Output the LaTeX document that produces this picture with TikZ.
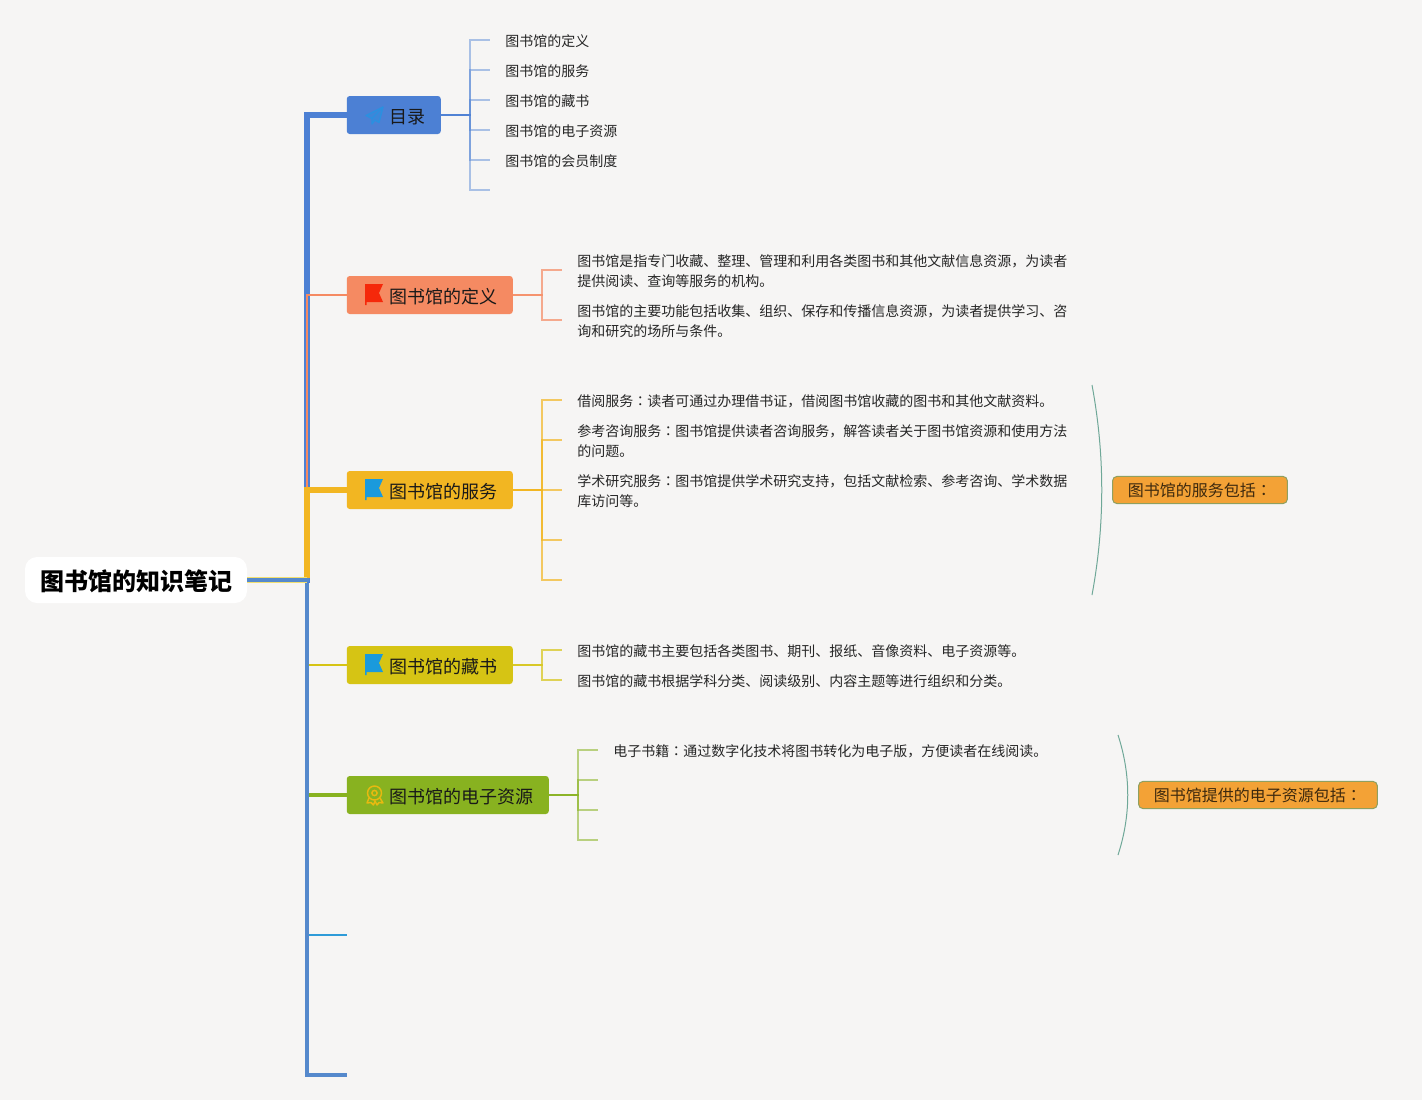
\documentclass[tikz,border=0pt]{standalone}
\usepackage{fontspec}
\setmainfont{Noto Sans CJK SC}
\newfontfamily\tcfont{Noto Sans CJK TC}
\newcommand{\cn}{{\tcfont ：}}
\newcommand{\lowtxt}[1]{\raisebox{-0.45em}[0pt][0pt]{#1}}
\definecolor{bgc}{HTML}{F6F5F4}
\definecolor{cblue}{HTML}{4C80D4}
\definecolor{ctrunk}{HTML}{5589CC}
\definecolor{csalmon}{HTML}{F58A62}
\definecolor{corange}{HTML}{F2B622}
\definecolor{cyellow}{HTML}{D6C414}
\definecolor{cpale}{HTML}{F2DF70}
\definecolor{cgreen}{HTML}{88B220}
\definecolor{ccyan}{HTML}{2E9BD8}
\definecolor{ccall}{HTML}{F3A236}
\definecolor{ccallb}{HTML}{8FA060}
\definecolor{cbrace}{HTML}{6FA898}
\definecolor{cred}{HTML}{F5280A}
\definecolor{cflag}{HTML}{1A9ADC}
\definecolor{cplane}{HTML}{2A90E0}
\definecolor{cmedal}{HTML}{E8B910}
\tikzset{
  rootbox/.style={fill=white,rounded corners=9pt,anchor=center,minimum width=166.5pt,minimum height=34.5pt,inner sep=0pt,font=\fontsize{18}{22}\selectfont\bfseries},
  topicbox/.style={anchor=west,rounded corners=2.2pt,minimum height=28.5pt,inner xsep=12pt,inner ysep=0pt,text=black!90,font=\fontsize{13.5}{16}\selectfont},
  leaftext/.style={anchor=west,inner xsep=11.25pt,inner ysep=0pt,align=left,text=black!85,font=\fontsize{10.5}{15}\selectfont},
  callbox/.style={anchor=west,fill=ccall,draw=ccallb,line width=0.75pt,rounded corners=3.5pt,inner xsep=11.6pt,inner ysep=0pt,minimum height=20.5pt,text=black!75!ccall,font=\fontsize{12}{15}\selectfont},
  sublink/.style={line width=1.1pt,opacity=0.45},
  bracecurve/.style={draw=cbrace,line width=0.75pt},
}
\newcommand{\flagicon}[3]{%
  \fill[#3] (#1,#2) -- (#1+18,#2) -- (#1+14,#2+9) -- (#1+18,#2+18) -- (#1+1.5,#2+18) -- (#1+1.5,#2+21) -- (#1,#2+21) -- cycle;}
\newcommand{\topictxt}[1]{\hspace*{20.25pt}\lowtxt{#1}\hspace*{-0.75pt}}
\begin{document}
\begin{tikzpicture}[x=0.75pt,y=-0.75pt]
\useasboundingbox (0,0) rectangle (1422,1100);
\fill[bgc] (0,0) rectangle (1422,1100);

% nodes
\node[rootbox] (root) at (136,580) {\hspace*{0.75pt}\lowtxt{图书馆的知识笔记}};
\node[topicbox,fill=cblue] (t1) at (346.5,115) {\topictxt{目录}};
\node[topicbox,fill=csalmon] (t2) at (346.5,295) {\topictxt{图书馆的定义}};
\node[topicbox,fill=corange] (t3) at (346.5,490) {\topictxt{图书馆的服务}};
\node[topicbox,fill=cyellow] (t4) at (346.5,665) {\topictxt{图书馆的藏书}};
\node[topicbox,fill=cgreen] (t5) at (346.5,795) {\topictxt{图书馆的电子资源}};
\coordinate (t6) at (347,935);
\coordinate (t7) at (347,1075);

% main branches
\draw[ccyan,line width=1.5pt] (root.east) -- ++(60,0) |- (t6);
\draw[cyellow,line width=1.5pt] (root.east) -- ++(60,0) |- (t4.west);
\draw[cgreen,line width=3pt] (root.east) -- ++(60,0) |- (t5.west);
\draw[ctrunk,line width=3pt] (root.east) -- ++(60,0) |- (t7);
\draw[cblue,line width=4.5pt] (root.east) -- ++(60,0) |- (t1.west);
\draw[csalmon,line width=1.5pt] (root.east) -- ++(60,0) |- (t2.west);
\draw[corange,line width=4.5pt] ([yshift=1.5pt]root.east) ++(60,0) |- (t3.west);
\draw[cpale,line width=4pt] (root.east) -- ++(60,0);
\draw[ctrunk,line width=2.6pt] (root.east) -- ++(62,0);

% 目录
\node[leaftext] (a1) at (490,41.5) {图书馆的定义};
\node[leaftext] (a2) at (490,71.5) {图书馆的服务};
\node[leaftext] (a3) at (490,101.5) {图书馆的藏书};
\node[leaftext] (a4) at (490,131.5) {图书馆的电子资源};
\node[leaftext] (a5) at (490,161.5) {图书馆的会员制度};
\coordinate (a6) at (490,191.5);
\foreach \n in {a1,a2,a3,a4,a5,a6}
  \draw[sublink,cblue] (t1.east) -- ++(29,0) |- ([yshift=1.125pt]\n.west);

% 定义
\node[leaftext] (b1) at (562,271.5) {图书馆是指专门收藏、整理、管理和利用各类图书和其他文献信息资源，为读者\\提供阅读、查询等服务的机构。};
\node[leaftext] (b2) at (562,321.5) {图书馆的主要功能包括收集、组织、保存和传播信息资源，为读者提供学习、咨\\询和研究的场所与条件。};
\foreach \n in {b1,b2}
  \draw[sublink,csalmon,opacity=0.7] (t2.east) -- ++(29,0) |- ([yshift=1.125pt]\n.west);

% 服务
\node[leaftext] (c1) at (562,401.5) {借阅服务\cn 读者可通过办理借书证，借阅图书馆收藏的图书和其他文献资料。};
\node[leaftext] (c2) at (562,441.5) {参考咨询服务\cn 图书馆提供读者咨询服务，解答读者关于图书馆资源和使用方法\\的问题。};
\node[leaftext] (c3) at (562,491.5) {学术研究服务\cn 图书馆提供学术研究支持，包括文献检索、参考咨询、学术数据\\库访问等。};
\coordinate (c4) at (562,541.5);
\coordinate (c5) at (562,581.5);
\foreach \n in {c1,c2,c3,c4,c5}
  \draw[sublink,corange,opacity=0.7] (t3.east) -- ++(29,0) |- ([yshift=1.125pt]\n.west);

% 藏书
\node[leaftext] (d1) at (562,651.5) {图书馆的藏书主要包括各类图书、期刊、报纸、音像资料、电子资源等。};
\node[leaftext] (d2) at (562,681.5) {图书馆的藏书根据学科分类、阅读级别、内容主题等进行组织和分类。};
\foreach \n in {d1,d2}
  \draw[sublink,cyellow,opacity=0.7] (t4.east) -- ++(29,0) |- ([yshift=1.125pt]\n.west);

% 电子资源
\node[leaftext] (e1) at (598,751.5) {电子书籍\cn 通过数字化技术将图书转化为电子版，方便读者在线阅读。};
\coordinate (e2) at (598,781.5);
\coordinate (e3) at (598,811.5);
\coordinate (e4) at (598,841.5);
\foreach \n in {e1,e2,e3,e4}
  \draw[sublink,cgreen,opacity=0.55] (t5.east) -- ++(29,0) |- ([yshift=1.125pt]\n.west);

% callouts
\node[callbox] (k1) at (1112,490) {图书馆的服务包括\cn};
\node[callbox] (k2) at (1138,795) {图书馆提供的电子资源包括\cn};
\coordinate (p1) at (1092,385);
\coordinate (p2) at (1092,595);
\coordinate (q1) at (1118,735);
\coordinate (q2) at (1118,855);
\draw[bracecurve] (p1) .. controls (1105,455) and (1105,525) .. (p2);
\draw[bracecurve] (q1) .. controls (1131,775) and (1131,815) .. (q2);

% icons
\filldraw[draw=cplane,fill=cplane,fill opacity=0.45,line width=1pt,line join=round] (383,107) -- (366,115.5) -- (372,118.5) -- (372,124) -- (375,120) -- (379,122.5) -- cycle;
\draw[cplane,line width=0.8pt] (372,118.5) -- (383,107);
\flagicon{365}{284}{cred}
\flagicon{365}{479}{cflag}
\flagicon{365}{654}{cflag}
\draw[cmedal,line width=1.1pt] (374.5,793) circle (7);
\draw[cmedal,line width=1.1pt] (374.5,793) circle (2.6);
\draw[cmedal,line width=1.1pt,line join=round] (369,798) -- (367,803) -- (371,802.5) -- (373.5,805) -- (375,801) -- (377,805) -- (379,802.5) -- (383,803) -- (380,798);
\end{tikzpicture}
\end{document}
